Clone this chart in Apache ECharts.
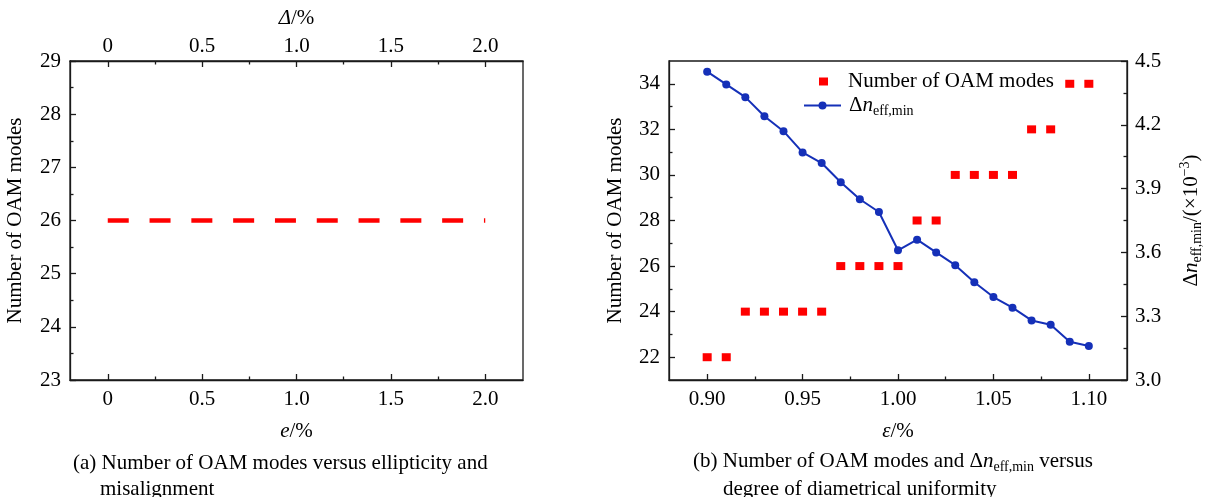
<!DOCTYPE html>
<html>
<head>
<meta charset="utf-8">
<script src="https://cdn.jsdelivr.net/npm/echarts@6/dist/echarts.min.js"></script>
<style>
  html, body { margin: 0; padding: 0; background: #fff; }
  #main { width: 1212px; height: 497px; }
</style>
</head>
<body>
<div id="main"></div>
<script>
// (a) OAM modes vs ellipticity / misalignment
const ellipticity = [0, 2.0];
const modesVsEllipticity = [26, 26];
const eTicks = [0, 0.5, 1.0, 1.5, 2.0];
const eMinorTicks = [0.25, 0.75, 1.25, 1.75];

// (b) OAM modes and delta n_eff,min vs diametrical uniformity
const epsilon = [0.90, 0.91, 0.92, 0.93, 0.94, 0.95, 0.96, 0.97, 0.98, 0.99, 1.00,
                 1.01, 1.02, 1.03, 1.04, 1.05, 1.06, 1.07, 1.08, 1.09, 1.10];
const oamModes = [22, 22, 24, 24, 24, 24, 24, 26, 26, 26, 26,
                  28, 28, 30, 30, 30, 30, 32, 32, 34, 34];
const dnEffMin = [4.45, 4.39, 4.33, 4.24, 4.17, 4.07, 4.02, 3.93, 3.85, 3.79, 3.61,
                  3.66, 3.60, 3.54, 3.46, 3.39, 3.34, 3.28, 3.26, 3.18, 3.16];
const epsTicks = [0.90, 0.95, 1.00, 1.05, 1.10];
const epsMinorTicks = [0.925, 0.975, 1.025, 1.075];
const modeTicks = [22, 24, 26, 28, 30, 32, 34];
const modeMinorTicks = [23, 25, 27, 29, 31, 33];

const FONT = "'Liberation Serif', 'DejaVu Serif', serif";
const FS = 21;
const AXIS_COLOR = '#1a1a1a';
const RED = '#ff0000';
const BLUE = '#1530b8';

const txt = { color: '#000', fontFamily: FONT, fontSize: FS };
const richBase = {
    r: { color: '#000', fontFamily: FONT, fontSize: FS, lineHeight: 26 },
    i: { color: '#000', fontFamily: FONT, fontSize: FS, lineHeight: 26, fontStyle: 'italic' },
    sub: { color: '#000', fontFamily: FONT, fontSize: 14, lineHeight: 14, verticalAlign: 'bottom' },
    sup: { color: '#000', fontFamily: FONT, fontSize: 14, lineHeight: 14, verticalAlign: 'top' }
};
const tickLine = { color: AXIS_COLOR, width: 1.3 };

function majorAxis(extra) {
    return Object.assign({
        type: 'value',
        splitLine: { show: false },
        axisLine: { show: true, onZero: false, lineStyle: { color: AXIS_COLOR, width: 1.3 } },
        axisTick: { show: true, inside: true, length: 6, lineStyle: tickLine },
        axisLabel: Object.assign({ margin: 9 }, txt),
        nameTextStyle: Object.assign({ rich: richBase }, txt)
    }, extra);
}
function minorAxis(extra) {
    return Object.assign({
        type: 'value',
        splitLine: { show: false },
        axisLine: { show: false, onZero: false },
        axisLabel: { show: false }
    }, extra);
}
const fmt1 = v => (v === 0 ? '0' : v.toFixed(1));
const fmt2 = v => v.toFixed(2);

const chart = echarts.init(document.getElementById('main'));

const option = {
    animation: false,
    backgroundColor: '#fff',
    grid: [
        { left: 70, right: 689, top: 61, bottom: 117, show: true, borderColor: AXIS_COLOR, borderWidth: 1.3, backgroundColor: 'transparent' },
        { left: 669, right: 85, top: 61, bottom: 117, show: true, borderColor: AXIS_COLOR, borderWidth: 1.3, backgroundColor: 'transparent' }
    ],
    xAxis: [
        majorAxis({
            gridIndex: 0, position: 'bottom', min: -0.2, max: 2.2,
            axisTick: { show: true, inside: true, length: 6, customValues: eTicks, lineStyle: tickLine },
            axisLabel: Object.assign({ margin: 9, customValues: eTicks, formatter: fmt1 }, txt),
            name: '{i|e}{r|/%}', nameLocation: 'middle', nameGap: 38
        }),
        minorAxis({ gridIndex: 0, position: 'bottom', min: -0.2, max: 2.2,
            axisTick: { show: true, inside: true, length: 3.5, customValues: eMinorTicks, lineStyle: tickLine } }),
        majorAxis({
            gridIndex: 0, position: 'top', min: -0.2, max: 2.2,
            axisTick: { show: true, inside: true, length: 6, customValues: eTicks, lineStyle: tickLine },
            axisLabel: Object.assign({ margin: 4, customValues: eTicks, formatter: fmt1 }, txt),
            name: '{i|Δ}{r|/%}', nameLocation: 'middle', nameGap: 30
        }),
        minorAxis({ gridIndex: 0, position: 'top', min: -0.2, max: 2.2,
            axisTick: { show: true, inside: true, length: 3.5, customValues: eMinorTicks, lineStyle: tickLine } }),
        majorAxis({
            gridIndex: 1, position: 'bottom', min: 0.88, max: 1.12,
            axisTick: { show: true, inside: true, length: 6, customValues: epsTicks, lineStyle: tickLine },
            axisLabel: Object.assign({ margin: 9, customValues: epsTicks, formatter: fmt2 }, txt),
            name: '{i|ε}{r|/%}', nameLocation: 'middle', nameGap: 38
        }),
        minorAxis({ gridIndex: 1, position: 'bottom', min: 0.88, max: 1.12,
            axisTick: { show: true, inside: true, length: 3.5, customValues: epsMinorTicks, lineStyle: tickLine } })
    ],
    yAxis: [
        majorAxis({
            gridIndex: 0, position: 'left', min: 23, max: 29, interval: 1,
            minorTick: { show: true, splitNumber: 2, length: 3.5, lineStyle: tickLine },
            name: 'Number of OAM modes', nameLocation: 'middle', nameGap: 44
        }),
        majorAxis({
            gridIndex: 1, position: 'left', min: 21, max: 35,
            axisTick: { show: true, inside: true, length: 6, customValues: modeTicks, lineStyle: tickLine },
            axisLabel: Object.assign({ margin: 9, customValues: modeTicks }, txt),
            name: 'Number of OAM modes', nameLocation: 'middle', nameGap: 43
        }),
        minorAxis({ gridIndex: 1, position: 'left', min: 21, max: 35,
            axisTick: { show: true, inside: true, length: 3.5, customValues: modeMinorTicks, lineStyle: tickLine } }),
        majorAxis({
            gridIndex: 1, position: 'right', min: 3.0, max: 4.5, interval: 0.3,
            minorTick: { show: true, splitNumber: 2, length: 3.5, lineStyle: tickLine },
            axisLabel: Object.assign({ margin: 8, formatter: v => v.toFixed(1) }, txt),
            name: '{r|Δ}{i|n}{sub|eff,min}{r|/(×10}{sup|−3}{r|)}',
            nameLocation: 'middle', nameGap: 51
        })
    ],
    legend: [
        {
            left: 819, top: 71, padding: 0,
            data: ['Number of OAM modes'],
            icon: 'rect', itemWidth: 9, itemHeight: 8,
            textStyle: Object.assign({ padding: [0, 0, 0, 15] }, txt)
        },
        {
            left: 803, top: 95, padding: 0,
            data: ['dn'],
            itemWidth: 37, itemHeight: 10,
            formatter: () => '{r|Δ}{i|n}{sub|eff,min}',
            textStyle: Object.assign({ padding: [0, 0, 0, 3], rich: richBase }, txt)
        }
    ],
    graphic: [
        { type: 'text', left: 73, top: 453, style: Object.assign({ text: '(a) Number of OAM modes versus ellipticity and' }, txt) },
        { type: 'text', left: 100, top: 479, style: Object.assign({ text: 'misalignment' }, txt) },
        { type: 'text', left: 693, top: 451, style: {
            text: '{r|(b) Number of OAM modes and Δ}{i|n}{sub|eff,min}{r| versus}', rich: richBase } },
        { type: 'text', left: 723, top: 479, style: Object.assign({ text: 'degree of diametrical uniformity' }, txt) }
    ],
    series: [
        {
            name: 'a',
            type: 'line',
            xAxisIndex: 0, yAxisIndex: 0,
            data: ellipticity.map((x, i) => [x, modesVsEllipticity[i]]),
            showSymbol: false, symbol: 'none',
            lineStyle: { color: RED, width: 4.5, type: [21, 20.8], cap: 'butt' }
        },
        {
            name: 'Number of OAM modes',
            type: 'scatter',
            xAxisIndex: 4, yAxisIndex: 1,
            data: epsilon.map((x, i) => [x, oamModes[i]]),
            symbol: 'rect', symbolSize: [9, 8],
            itemStyle: { color: RED, opacity: 1 }
        },
        {
            name: 'dn',
            type: 'line',
            xAxisIndex: 4, yAxisIndex: 3,
            data: epsilon.map((x, i) => [x, dnEffMin[i]]),
            symbol: 'circle', symbolSize: 8, showSymbol: true,
            lineStyle: { color: BLUE, width: 2 },
            itemStyle: { color: BLUE }
        }
    ]
};

option && chart.setOption(option);
</script>
</body>
</html>
